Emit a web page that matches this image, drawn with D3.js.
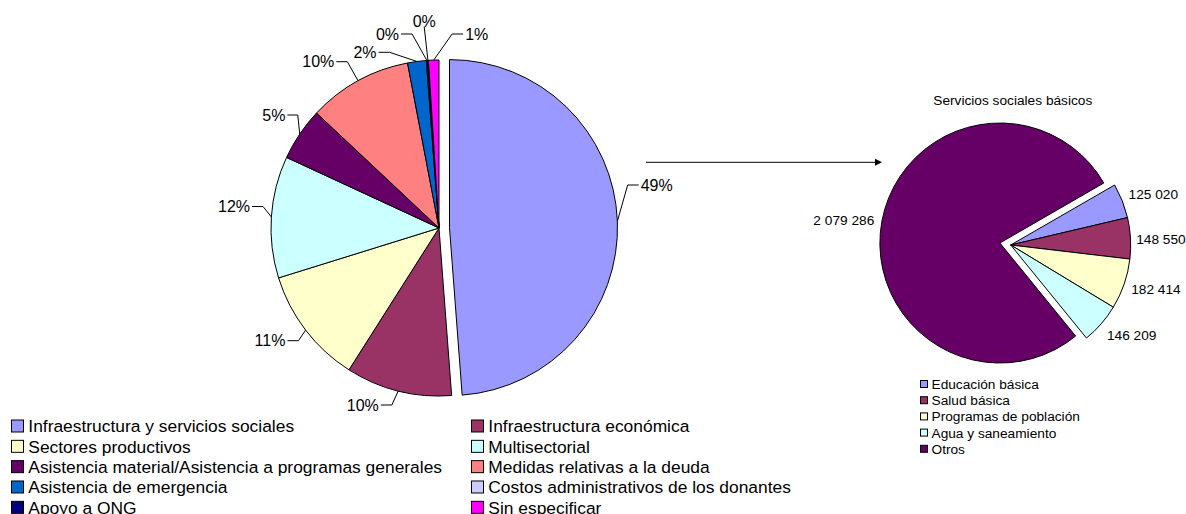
<!DOCTYPE html>
<html>
<head>
<meta charset="utf-8">
<script src="https://cdn.jsdelivr.net/npm/d3@7"></script>
<style>
  body { margin: 0; background: #fff; }
  svg { display: block; font-family: "Liberation Sans", Arial, sans-serif; }
</style>
</head>
<body>
<svg id="chart" width="1186" height="514"></svg>
<script>
// Distribución por sectores (porcentaje del total)
const sectores = [
  "Infraestructura y servicios sociales",
  "Infraestructura económica",
  "Sectores productivos",
  "Multisectorial",
  "Asistencia material/Asistencia a programas generales",
  "Medidas relativas a la deuda",
  "Asistencia de emergencia",
  "Costos administrativos de los donantes",
  "Apoyo a ONG",
  "Sin especificar"
];
const sectorPorcentajes = [48.8, 10.2, 11.2, 11.7, 5.1, 10.0, 1.8, 0.1, 0.1, 1.0];
const sectorColores = ["#9999FF", "#993366", "#FFFFCC", "#CCFFFF", "#660066",
                       "#FF8080", "#0066CC", "#CCCCFF", "#000080", "#FF00FF"];

// Desglose de los servicios sociales básicos
const tituloBasicos = "Servicios sociales básicos";
const basicos = ["Educación básica", "Salud básica", "Programas de población",
                 "Agua y saneamiento", "Otros"];
const basicosValores = [125020, 148550, 182414, 146209, 2079286];
const basicosColores = ["#9999FF", "#993366", "#FFFFCC", "#CCFFFF", "#660066"];

// Colocación de las etiquetas: centro del texto respecto al centro de cada tarta
const posEtiquetasSectores = [[217.7, -43], [-76.2, 177], [-169, 112.7], [-205, -21.5],
  [-165.2, -113], [-120.7, -166.3], [-74, -175.7], [-51.5, -194], [-14.8, -206.3], [37.7, -194]];
const posEtiquetasBasicos = [[142.6, -51], [150.2, -5.7], [145.2, 44], [121, 90], [-166.9, -25]];

const svg = d3.select("#chart");
svg.append("rect").attr("width", 1186).attr("height", 514).attr("fill", "#fff");

function desplazamiento(d, dist) {
  const a = (d.startAngle + d.endAngle) / 2;
  return [dist * Math.sin(a), -dist * Math.cos(a)];
}

// ---------- Tarta principal ----------
const cx1 = 439, cy1 = 228, r1 = 168, despl1 = 10.5;
const explotados1 = new Set([0]);
const arcos1 = d3.pie().sort(null).value(d => d)(sectorPorcentajes);
const arco1 = d3.arc().innerRadius(0).outerRadius(r1);
const g1 = svg.append("g").attr("transform", `translate(${cx1},${cy1})`);

g1.selectAll("path")
  .data(arcos1)
  .join("path")
  .attr("d", arco1)
  .attr("fill", (d, i) => sectorColores[i])
  .attr("stroke", "#000")
  .attr("stroke-width", 1)
  .attr("stroke-linejoin", "round")
  .attr("transform", (d, i) => {
    const o = desplazamiento(d, explotados1.has(i) ? despl1 : 0);
    return `translate(${o[0]},${o[1]})`;
  });

const fmtPct = d3.format(".0%");
const fs1 = 16;
const etiquetas1 = g1.append("g");
const guias1 = g1.append("g");
arcos1.forEach((d, i) => {
  const [lx, ly] = posEtiquetasSectores[i];
  const t = etiquetas1.append("text")
    .attr("x", lx).attr("y", ly + fs1 * 0.36)
    .attr("text-anchor", "middle")
    .attr("font-size", fs1)
    .attr("fill", "#000")
    .text(fmtPct(d.value / 100));
  const w = t.node().getComputedTextLength();
  const x0 = lx - w / 2, x1 = lx + w / 2;
  const o = desplazamiento(d, explotados1.has(i) ? despl1 : 0);
  const a = (d.startAngle + d.endAngle) / 2;
  const ex = o[0] + r1 * Math.sin(a), ey = o[1] - r1 * Math.cos(a);
  let pts;
  if (ex > x1 + 4) {
    const h = Math.min(11, ex - x1 - 4);
    pts = [[x1 + 2, ly], [x1 + 2 + h, ly], [ex, ey]];
  } else if (ex < x0 - 4) {
    const h = Math.min(11, x0 - ex - 4);
    pts = [[x0 - 2, ly], [x0 - 2 - h, ly], [ex, ey]];
  } else {
    pts = [[lx, ly + 5], [ex, ey]];
  }
  guias1.append("path")
    .attr("d", d3.line()(pts))
    .attr("fill", "none")
    .attr("stroke", "#000")
    .attr("stroke-width", 1);
});

// Leyenda principal (dos columnas)
const leyenda1 = svg.append("g");
sectores.forEach((s, i) => {
  const col = i % 2, fila = Math.floor(i / 2);
  const x = col === 0 ? 11.5 : 471.5;
  const y = 426 + fila * 20.33;
  leyenda1.append("rect")
    .attr("x", x).attr("y", y - 6).attr("width", 12).attr("height", 12)
    .attr("fill", sectorColores[i]).attr("stroke", "#000").attr("stroke-width", 1);
  leyenda1.append("text")
    .attr("x", x + 16.8).attr("y", y + 17.4 * 0.36)
    .attr("font-size", 17.4)
    .attr("fill", "#000")
    .text(s);
});

// ---------- Flecha ----------
svg.append("defs").append("marker")
  .attr("id", "punta")
  .attr("viewBox", "0 0 10 10")
  .attr("refX", 0).attr("refY", 5)
  .attr("markerWidth", 7).attr("markerHeight", 8)
  .attr("markerUnits", "userSpaceOnUse")
  .attr("orient", "auto")
  .append("path").attr("d", "M0,0 L10,5 L0,10 Z").attr("fill", "#000");
svg.append("line")
  .attr("x1", 646).attr("y1", 162.3).attr("x2", 875).attr("y2", 162.3)
  .attr("stroke", "#333").attr("stroke-width", 1.2)
  .attr("marker-end", "url(#punta)");

// ---------- Tarta de servicios sociales básicos ----------
const cx2 = 1010.7, cy2 = 245, r2 = 120, despl2 = 11;
const inicio2 = 60 * Math.PI / 180;
const explotados2 = new Set([4]);
const arcos2 = d3.pie().sort(null).value(d => d)
  .startAngle(inicio2).endAngle(inicio2 + 2 * Math.PI)(basicosValores);
const arco2 = d3.arc().innerRadius(0).outerRadius(r2);
const g2 = svg.append("g").attr("transform", `translate(${cx2},${cy2})`);

g2.selectAll("path")
  .data(arcos2)
  .join("path")
  .attr("d", arco2)
  .attr("fill", (d, i) => basicosColores[i])
  .attr("stroke", "#000")
  .attr("stroke-width", 1)
  .attr("stroke-linejoin", "round")
  .attr("transform", (d, i) => {
    const o = desplazamiento(d, explotados2.has(i) ? despl2 : 0);
    return `translate(${o[0]},${o[1]})`;
  });

const loc = d3.formatLocale({ decimal: ",", thousands: " ", grouping: [3], currency: ["", " €"] });
const fmtNum = loc.format(",d");
const fs2 = 13.7;
arcos2.forEach((d, i) => {
  const [lx, ly] = posEtiquetasBasicos[i];
  g2.append("text")
    .attr("x", lx).attr("y", ly + fs2 * 0.36)
    .attr("text-anchor", "middle")
    .attr("font-size", fs2)
    .attr("fill", "#000")
    .text(fmtNum(d.value));
});

svg.append("text")
  .attr("x", 1012.8).attr("y", 100 + fs2 * 0.36)
  .attr("text-anchor", "middle")
  .attr("font-size", fs2)
  .attr("fill", "#000")
  .text(tituloBasicos);

// Leyenda secundaria
const leyenda2 = svg.append("g");
basicos.forEach((s, i) => {
  const y = 384 + i * 16.2;
  leyenda2.append("rect")
    .attr("x", 920.5).attr("y", y - 3.5).attr("width", 7).attr("height", 7)
    .attr("fill", basicosColores[i]).attr("stroke", "#000").attr("stroke-width", 1);
  leyenda2.append("text")
    .attr("x", 931.5).attr("y", y + fs2 * 0.36)
    .attr("font-size", fs2)
    .attr("fill", "#000")
    .text(s);
});
</script>
</body>
</html>
